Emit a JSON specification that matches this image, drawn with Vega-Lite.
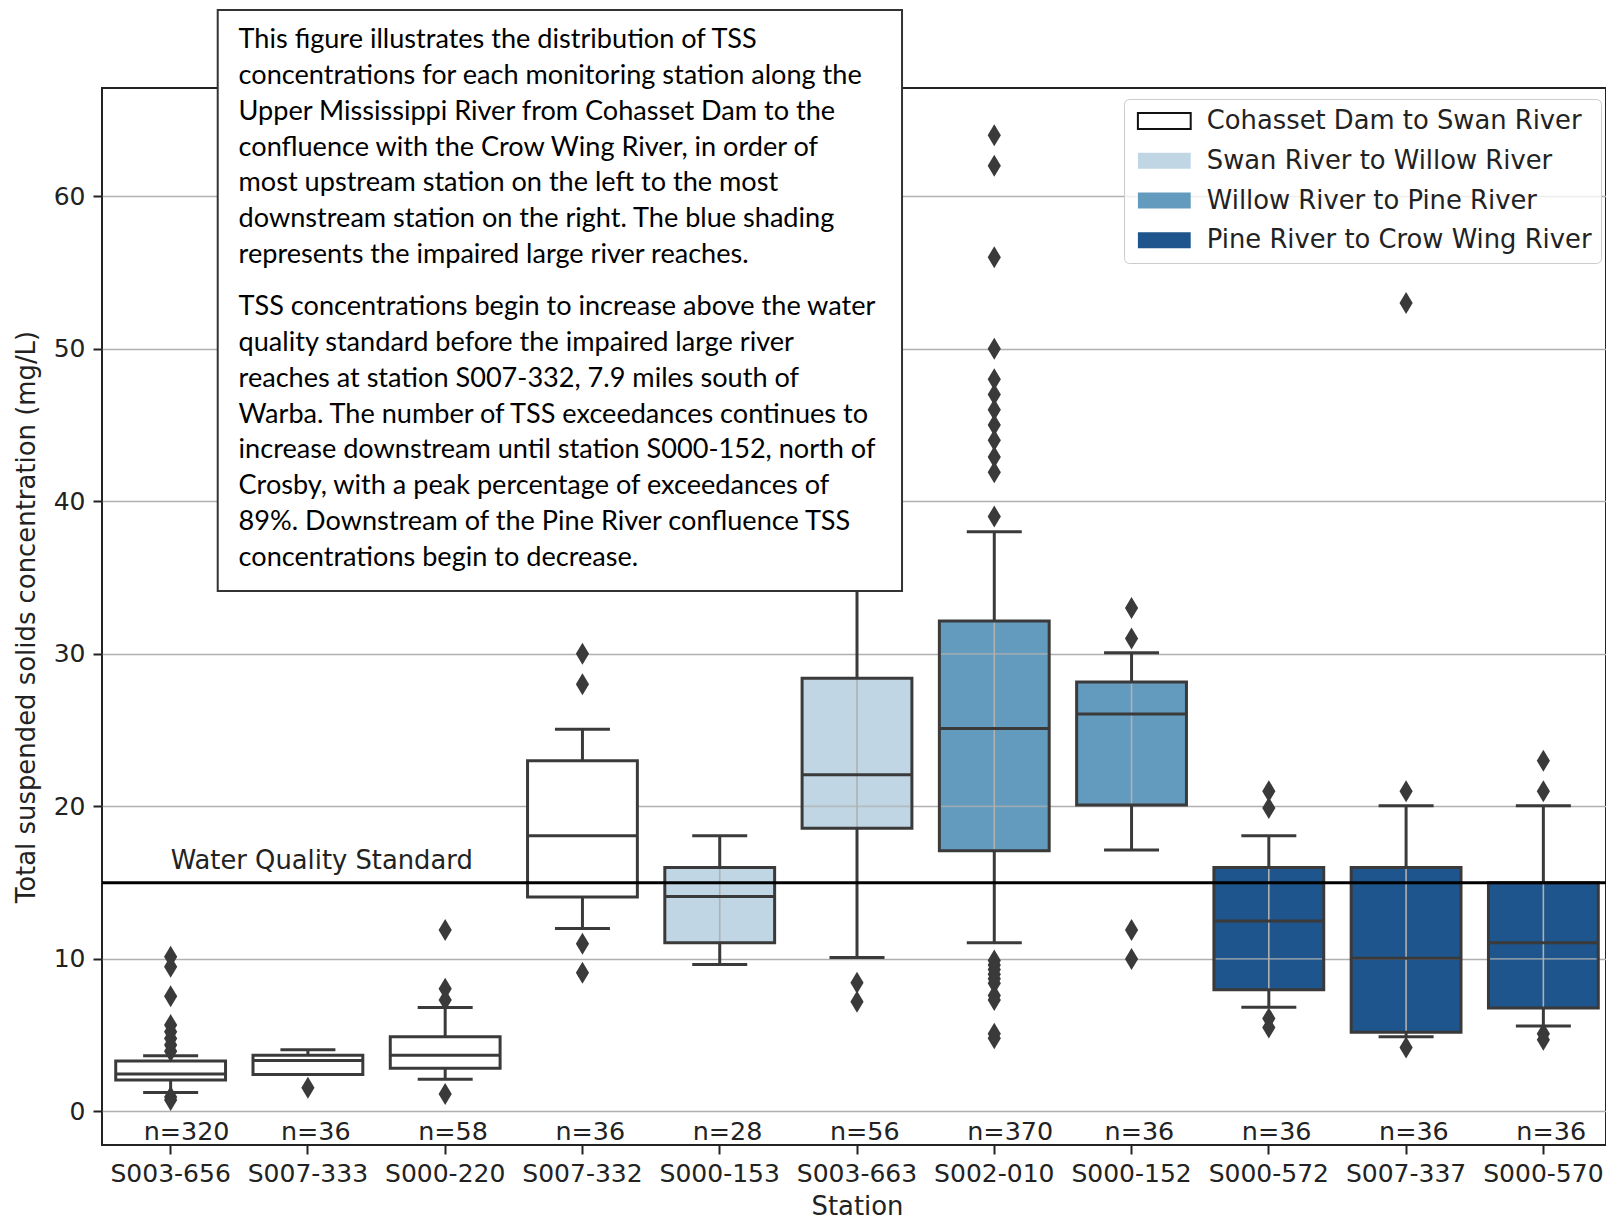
{
  "$schema": "https://vega.github.io/schema/vega-lite/v6.json",
  "width": 1504,
  "height": 1057,
  "autosize": {"type": "none"},
  "padding": {"left": 102, "top": 88, "right": 0, "bottom": 75},
  "background": "white",
  "config": {
    "view": {"stroke": "#222222", "strokeWidth": 2},
    "font": "DejaVu Sans",
    "axis": {
      "labelFont": "DejaVu Sans", "labelFontSize": 25, "labelColor": "#222222",
      "titleFont": "DejaVu Sans", "titleFontSize": 25.9, "titleFontWeight": "normal", "titleColor": "#222222",
      "tickColor": "#222222", "tickWidth": 2, "tickSize": 9, "domain": false,
      "gridColor": "#b0b0b0", "gridWidth": 1.6, "gridOpacity": 1
    },
    "legend": {
      "orient": "none", "legendX": 1022, "legendY": 11,
      "symbolType": "M-1,-1H5.6V1H-1Z", "symbolSize": 256,
      "labelFont": "DejaVu Sans", "labelFontSize": 25.8, "labelColor": "#222222", "labelLimit": 0,
      "labelOffset": 48, "rowPadding": 12.8, "padding": 9,
      "fillColor": "rgba(255,255,255,0.8)", "strokeColor": "#cccccc", "cornerRadius": 5,
      "symbolStrokeWidth": 2, "symbolOpacity": 1
    }
  },
  "datasets": {
    "boxes": [
      {"station": "S003-656", "region": "Cohasset Dam to Swan River", "n": "n=320", "lo": 1.25, "q1": 2.06, "med": 2.45, "q3": 3.3, "hi": 3.65},
      {"station": "S007-333", "region": "Cohasset Dam to Swan River", "n": "n=36", "lo": 2.43, "q1": 2.43, "med": 3.34, "q3": 3.69, "hi": 4.04},
      {"station": "S000-220", "region": "Cohasset Dam to Swan River", "n": "n=58", "lo": 2.11, "q1": 2.83, "med": 3.69, "q3": 4.89, "hi": 6.82},
      {"station": "S007-332", "region": "Cohasset Dam to Swan River", "n": "n=36", "lo": 12.0, "q1": 14.06, "med": 18.07, "q3": 23.0, "hi": 25.05},
      {"station": "S000-153", "region": "Swan River to Willow River", "n": "n=28", "lo": 9.63, "q1": 11.06, "med": 14.1, "q3": 16.0, "hi": 18.07},
      {"station": "S003-663", "region": "Swan River to Willow River", "n": "n=56", "lo": 10.1, "q1": 18.56, "med": 22.07, "q3": 28.4, "hi": 40.0},
      {"station": "S002-010", "region": "Willow River to Pine River", "n": "n=370", "lo": 11.06, "q1": 17.09, "med": 25.1, "q3": 32.15, "hi": 38.0},
      {"station": "S000-152", "region": "Willow River to Pine River", "n": "n=36", "lo": 17.14, "q1": 20.09, "med": 26.05, "q3": 28.15, "hi": 30.08},
      {"station": "S000-572", "region": "Pine River to Crow Wing River", "n": "n=36", "lo": 6.83, "q1": 7.98, "med": 12.48, "q3": 16.0, "hi": 18.07},
      {"station": "S007-337", "region": "Pine River to Crow Wing River", "n": "n=36", "lo": 4.9, "q1": 5.2, "med": 10.05, "q3": 16.0, "hi": 20.04},
      {"station": "S000-570", "region": "Pine River to Crow Wing River", "n": "n=36", "lo": 5.6, "q1": 6.78, "med": 11.06, "q3": 15.0, "hi": 20.04}
    ],
    "outliers": [
      {"station": "S003-656", "value": 10.14}, {"station": "S003-656", "value": 9.49}, {"station": "S003-656", "value": 7.56},
      {"station": "S003-656", "value": 5.66}, {"station": "S003-656", "value": 5.22}, {"station": "S003-656", "value": 4.79},
      {"station": "S003-656", "value": 4.35}, {"station": "S003-656", "value": 3.95}, {"station": "S003-656", "value": 0.95},
      {"station": "S003-656", "value": 0.75},
      {"station": "S007-333", "value": 1.55},
      {"station": "S000-220", "value": 11.9}, {"station": "S000-220", "value": 8.05}, {"station": "S000-220", "value": 7.3}, {"station": "S000-220", "value": 1.15},
      {"station": "S007-332", "value": 30.0}, {"station": "S007-332", "value": 28.0}, {"station": "S007-332", "value": 11.0}, {"station": "S007-332", "value": 9.1},
      {"station": "S003-663", "value": 8.44}, {"station": "S003-663", "value": 7.2},
      {"station": "S002-010", "value": 64.0}, {"station": "S002-010", "value": 62.0}, {"station": "S002-010", "value": 56.0},
      {"station": "S002-010", "value": 50.0}, {"station": "S002-010", "value": 48.0}, {"station": "S002-010", "value": 47.0},
      {"station": "S002-010", "value": 46.0}, {"station": "S002-010", "value": 45.0}, {"station": "S002-010", "value": 44.0},
      {"station": "S002-010", "value": 42.9}, {"station": "S002-010", "value": 41.9}, {"station": "S002-010", "value": 39.0},
      {"station": "S002-010", "value": 9.9}, {"station": "S002-010", "value": 9.6}, {"station": "S002-010", "value": 9.3},
      {"station": "S002-010", "value": 9.0}, {"station": "S002-010", "value": 8.7}, {"station": "S002-010", "value": 8.4},
      {"station": "S002-010", "value": 7.6}, {"station": "S002-010", "value": 7.3}, {"station": "S002-010", "value": 5.1},
      {"station": "S002-010", "value": 4.8},
      {"station": "S000-152", "value": 33.0}, {"station": "S000-152", "value": 31.0}, {"station": "S000-152", "value": 11.9}, {"station": "S000-152", "value": 10.0},
      {"station": "S000-572", "value": 21.0}, {"station": "S000-572", "value": 19.9}, {"station": "S000-572", "value": 6.1}, {"station": "S000-572", "value": 5.5},
      {"station": "S007-337", "value": 53.0}, {"station": "S007-337", "value": 21.0}, {"station": "S007-337", "value": 4.2},
      {"station": "S000-570", "value": 23.0}, {"station": "S000-570", "value": 21.0}, {"station": "S000-570", "value": 5.1}, {"station": "S000-570", "value": 4.7}
    ],
    "standard": [{"value": 15, "label": "Water Quality Standard"}],
    "note": [
      {"para": 1, "lines": [
        "This figure illustrates the distribution of TSS",
        "concentrations for each monitoring station along the",
        "Upper Mississippi River from Cohasset Dam to the",
        "confluence with the Crow Wing River, in order of",
        "most upstream station on the left to the most",
        "downstream station on the right. The blue shading",
        "represents the impaired large river reaches."
      ]},
      {"para": 2, "lines": [
        "TSS concentrations begin to increase above the water",
        "quality standard before the impaired large river",
        "reaches at station S007-332, 7.9 miles south of",
        "Warba. The number of TSS exceedances continues to",
        "increase downstream until station S000-152, north of",
        "Crosby, with a peak percentage of exceedances of",
        "89%. Downstream of the Pine River confluence TSS",
        "concentrations begin to decrease."
      ]}
    ]
  },
  "layer": [
    {
      "layer": [
        {
          "data": {"name": "boxes"},
          "mark": {"type": "bar", "width": {"band": 0.8}, "strokeWidth": 0},
          "encoding": {
            "x": {"field": "station", "type": "nominal",
              "scale": {"domain": ["S003-656","S007-333","S000-220","S007-332","S000-153","S003-663","S002-010","S000-152","S000-572","S007-337","S000-570"], "range": [0, 1510], "paddingInner": 0, "paddingOuter": 0},
              "axis": {"title": "Station", "labelAngle": 0, "labelPadding": 7, "titlePadding": 8}},
            "y": {"field": "q3", "type": "quantitative",
              "scale": {"domain": [-2.2, 67.1], "nice": false, "zero": false},
              "axis": {"title": "Total suspended solids concentration (mg/L)", "values": [0, 10, 20, 30, 40, 50, 60], "labelPadding": 8, "titlePadding": 14}},
            "y2": {"field": "q1"},
            "fill": {"field": "region", "type": "nominal",
              "scale": {"domain": ["Cohasset Dam to Swan River", "Swan River to Willow River", "Willow River to Pine River", "Pine River to Crow Wing River"],
                        "range": ["#ffffff", "#c0d6e5", "#629bbe", "#1d558c"]},
              "legend": {"title": null,
                "encode": {"symbols": {"update": {
                  "fill": [
                    {"test": "datum.label === 'Swan River to Willow River'", "value": "#b9d6ea"},
                    {"test": "datum.label === 'Willow River to Pine River'", "value": "#539ecd"},
                    {"test": "datum.label === 'Pine River to Crow Wing River'", "value": "#0b559f"},
                    {"value": "#ffffff"}],
                  "stroke": [
                    {"test": "datum.label === 'Cohasset Dam to Swan River'", "value": "#111111"},
                    {"value": "transparent"}],
                  "strokeWidth": {"value": 2}}}}}}
          }
        },
        {
          "data": {"name": "boxes"},
          "transform": [{"filter": "datum.region !== 'Cohasset Dam to Swan River'"}],
          "mark": {"type": "rule", "color": "#b0b0b0", "strokeWidth": 1.6},
          "encoding": {
            "x": {"field": "station", "type": "nominal"},
            "y": {"field": "q1", "type": "quantitative"},
            "y2": {"field": "q3"}
          }
        },
        {
          "data": {"name": "boxes"},
          "transform": [{"filter": "datum.region !== 'Cohasset Dam to Swan River' && datum.q1 < 10 && datum.q3 > 10"}],
          "mark": {"type": "tick", "color": "#b0b0b0", "thickness": 1.6, "size": 107},
          "encoding": {
            "x": {"field": "station", "type": "nominal"},
            "y": {"datum": 10, "type": "quantitative"}
          }
        },
        {
          "data": {"name": "boxes"},
          "transform": [{"filter": "datum.region !== 'Cohasset Dam to Swan River' && datum.q1 < 20 && datum.q3 > 20"}],
          "mark": {"type": "tick", "color": "#b0b0b0", "thickness": 1.6, "size": 107},
          "encoding": {
            "x": {"field": "station", "type": "nominal"},
            "y": {"datum": 20, "type": "quantitative"}
          }
        },
        {
          "data": {"name": "boxes"},
          "transform": [{"filter": "datum.region !== 'Cohasset Dam to Swan River' && datum.q1 < 30 && datum.q3 > 30"}],
          "mark": {"type": "tick", "color": "#b0b0b0", "thickness": 1.6, "size": 107},
          "encoding": {
            "x": {"field": "station", "type": "nominal"},
            "y": {"datum": 30, "type": "quantitative"}
          }
        },
        {
          "data": {"name": "boxes"},
          "mark": {"type": "bar", "width": {"band": 0.8}, "fill": "transparent", "stroke": "#3a3a3a", "strokeWidth": 3},
          "encoding": {
            "x": {"field": "station", "type": "nominal"},
            "y": {"field": "q3", "type": "quantitative"},
            "y2": {"field": "q1"}
          }
        },
        {
          "data": {"name": "boxes"},
          "mark": {"type": "rule", "color": "#3a3a3a", "strokeWidth": 3},
          "encoding": {
            "x": {"field": "station", "type": "nominal"},
            "y": {"field": "q3", "type": "quantitative"},
            "y2": {"field": "hi"}
          }
        },
        {
          "data": {"name": "boxes"},
          "mark": {"type": "rule", "color": "#3a3a3a", "strokeWidth": 3},
          "encoding": {
            "x": {"field": "station", "type": "nominal"},
            "y": {"field": "lo", "type": "quantitative"},
            "y2": {"field": "q1"}
          }
        },
        {
          "data": {"name": "boxes"},
          "mark": {"type": "tick", "color": "#3a3a3a", "thickness": 3, "size": 55, "opacity": 1},
          "encoding": {
            "x": {"field": "station", "type": "nominal"},
            "y": {"field": "hi", "type": "quantitative"}
          }
        },
        {
          "data": {"name": "boxes"},
          "mark": {"type": "tick", "color": "#3a3a3a", "thickness": 3, "size": 55, "opacity": 1},
          "encoding": {
            "x": {"field": "station", "type": "nominal"},
            "y": {"field": "lo", "type": "quantitative"}
          }
        },
        {
          "data": {"name": "boxes"},
          "mark": {"type": "tick", "color": "#3a3a3a", "thickness": 3, "size": 110, "opacity": 1},
          "encoding": {
            "x": {"field": "station", "type": "nominal"},
            "y": {"field": "med", "type": "quantitative"}
          }
        },
        {
          "data": {"name": "standard"},
          "mark": {"type": "rule", "color": "#000000", "strokeWidth": 3},
          "encoding": {
            "y": {"field": "value", "type": "quantitative"}
          }
        },
        {
          "data": {"name": "standard"},
          "mark": {"type": "text", "align": "left", "baseline": "alphabetic", "dy": -14, "font": "DejaVu Sans", "fontSize": 25.8, "color": "#222222"},
          "encoding": {
            "x": {"datum": "S003-656", "type": "nominal"},
            "y": {"field": "value", "type": "quantitative"},
            "text": {"field": "label", "type": "nominal"}
          }
        },
        {
          "data": {"name": "outliers"},
          "mark": {"type": "point", "shape": "M0,-1L0.6,0L0,1L-0.6,0Z", "size": 484, "filled": true, "color": "#3a3a3a", "opacity": 1, "strokeWidth": 0},
          "encoding": {
            "x": {"field": "station", "type": "nominal"},
            "y": {"field": "value", "type": "quantitative"}
          }
        },
        {
          "data": {"name": "boxes"},
          "mark": {"type": "text", "align": "left", "baseline": "middle", "dx": -27, "font": "DejaVu Sans", "fontSize": 25.4, "color": "#222222"},
          "encoding": {
            "x": {"field": "station", "type": "nominal"},
            "y": {"datum": -1.33, "type": "quantitative"},
            "text": {"field": "n", "type": "nominal"}
          }
        }
      ]
    },
    {
      "data": {"name": "note"},
      "layer": [
        {
          "transform": [{"filter": "datum.para === 1"}],
          "mark": {"type": "rect", "fill": "#ffffff", "stroke": "#333333", "strokeWidth": 2},
          "encoding": {
            "x": {"datum": 0.843, "type": "quantitative", "scale": {"domain": [0, 11], "range": [0, 1510], "nice": false, "zero": false}, "axis": null},
            "x2": {"datum": 5.828},
            "y": {"datum": 72.21, "type": "quantitative"},
            "y2": {"datum": 34.12}
          }
        },
        {
          "transform": [{"filter": "datum.para === 1"}],
          "mark": {"type": "text", "align": "left", "baseline": "alphabetic", "font": "Lato", "fontSize": 27.1, "lineHeight": 35.85, "color": "#000000"},
          "encoding": {
            "x": {"datum": 0.995, "type": "quantitative", "axis": null},
            "y": {"datum": 69.72, "type": "quantitative"},
            "text": {"field": "lines", "type": "nominal"}
          }
        },
        {
          "transform": [{"filter": "datum.para === 2"}],
          "mark": {"type": "text", "align": "left", "baseline": "alphabetic", "font": "Lato", "fontSize": 27.1, "lineHeight": 35.85, "color": "#000000"},
          "encoding": {
            "x": {"datum": 0.995, "type": "quantitative", "axis": null},
            "y": {"datum": 52.22, "type": "quantitative"},
            "text": {"field": "lines", "type": "nominal"}
          }
        }
      ]
    }
  ],
  "resolve": {"scale": {"x": "independent"}}
}
